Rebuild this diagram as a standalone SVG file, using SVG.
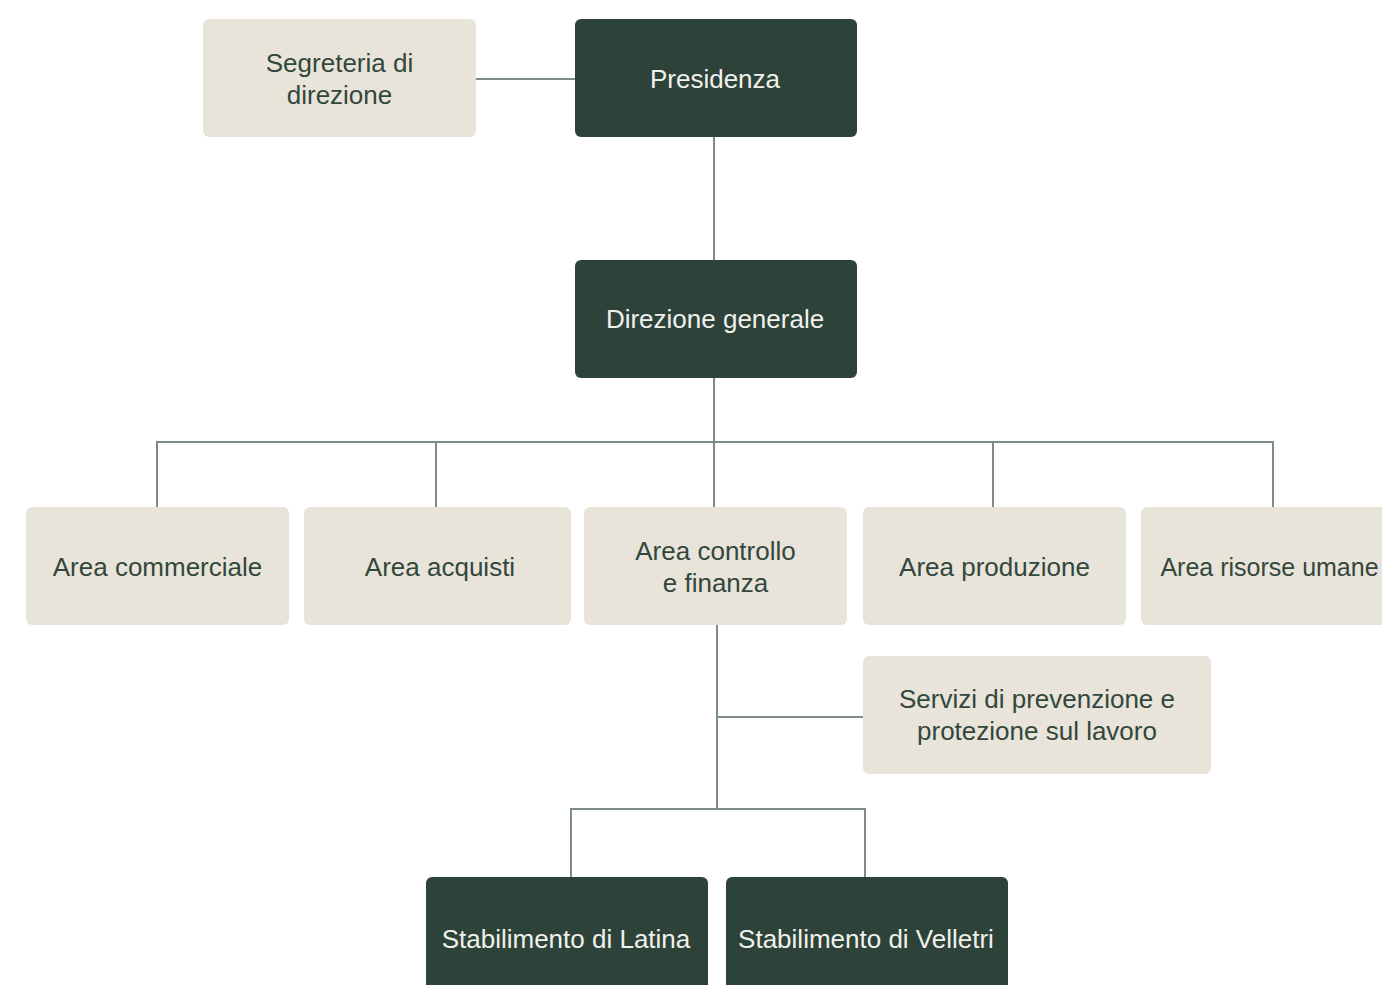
<svg xmlns="http://www.w3.org/2000/svg" width="1382" height="985" viewBox="0 0 1382 985">
<style>
.dark{fill:#2d433a}
.light{fill:#e8e4da}
.t{font-family:"Liberation Sans",Arial,sans-serif;font-size:26px;text-anchor:middle;dominant-baseline:central}
.td{fill:#f1f1ec}
.tl{fill:#33473d}
.c{stroke:#7e8c88;stroke-width:2;fill:none}
</style>
<rect width="1382" height="985" fill="#ffffff"/>
<g id="connectors">
<path class="c" d="M476 79H575"/>
<path class="c" d="M714 137V260"/>
<path class="c" d="M714 378V442"/>
<path class="c" d="M157 507V442H1273V507"/>
<path class="c" d="M436 442V507"/>
<path class="c" d="M714 442V507"/>
<path class="c" d="M993 442V507"/>
<path class="c" d="M717 625V809"/>
<path class="c" d="M717 717H863"/>
<path class="c" d="M571 877V809H865V877"/>
</g>
<g id="segreteria"><rect class="light" x="203" y="19" width="273" height="118" rx="6"/><text class="t tl" x="339.5" y="63">Segreteria di</text><text class="t tl" x="339.5" y="95">direzione</text></g>
<g id="presidenza"><rect class="dark" x="575" y="19" width="282" height="118" rx="6"/><text class="t td" x="715" y="79">Presidenza</text></g>
<g id="direzione-generale"><rect class="dark" x="575" y="260" width="282" height="118" rx="6"/><text class="t td" x="715" y="319">Direzione generale</text></g>
<g id="area-commerciale"><rect class="light" x="26" y="507" width="263" height="118" rx="6"/><text class="t tl" x="157.5" y="567">Area commerciale</text></g>
<g id="area-acquisti"><rect class="light" x="304" y="507" width="267" height="118" rx="6"/><text class="t tl" x="440" y="567">Area acquisti</text></g>
<g id="area-controllo"><rect class="light" x="584" y="507" width="263" height="118" rx="6"/><text class="t tl" x="715.5" y="551">Area controllo</text><text class="t tl" x="715.5" y="583">e finanza</text></g>
<g id="area-produzione"><rect class="light" x="863" y="507" width="263" height="118" rx="6"/><text class="t tl" x="994.5" y="567">Area produzione</text></g>
<g id="area-risorse-umane"><rect class="light" x="1141" y="507" width="270" height="118" rx="6"/><text class="t tl" x="1269.5" y="567" style="font-size:25px">Area risorse umane</text></g>
<g id="servizi-prevenzione"><rect class="light" x="863" y="656" width="348" height="118" rx="6"/><text class="t tl" x="1037" y="699">Servizi di prevenzione e</text><text class="t tl" x="1037" y="731">protezione sul lavoro</text></g>
<g id="stabilimento-latina"><rect class="dark" x="426" y="877" width="282" height="120" rx="6"/><text class="t td" x="566" y="939">Stabilimento di Latina</text></g>
<g id="stabilimento-velletri"><rect class="dark" x="726" y="877" width="282" height="120" rx="6"/><text class="t td" x="866" y="939">Stabilimento di Velletri</text></g>
</svg>
